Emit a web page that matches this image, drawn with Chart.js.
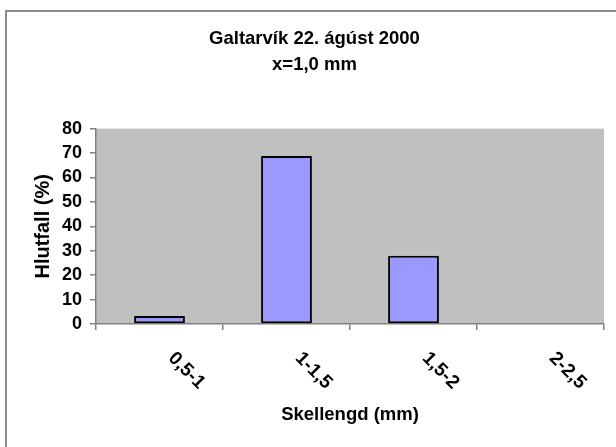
<!DOCTYPE html>
<html lang="is">

<head>
    <meta charset="UTF-8" />
    <title>Galtarvík 22. ágúst 2000</title>
    <script src="https://cdn.jsdelivr.net/npm/chart.js"></script>
    <style>
        html, body {
            margin: 0;
            padding: 0;
            background: #fff;
            overflow: hidden;
        }

        /* rammi utan um myndina (sést bara vinstri og efri brún) */
        .rammi {
            position: absolute;
            left: 5px;
            top: 10px;
            width: 700px;
            height: 500px;
            border-left: 2px solid #8c8c8c;
            border-top: 2px solid #8c8c8c;
        }

        canvas {
            position: absolute;
            left: 0;
            top: 0;
        }
    </style>
</head>

<body>
    <div class="rammi"></div>
    <canvas id="grafico" width="616" height="447"></canvas>

    <script>
        // Gögn lesin af myndinni
        const categories = ['0,5-1', '1-1,5', '1,5-2', '2-2,5'];
        const hlutfall = [3.3, 68.8, 28.0, 0];
        const titleLines = ['Galtarvík 22. ágúst 2000', 'x=1,0 mm'];
        const yMin = 0, yMax = 80, yStep = 10;

        const FONT = '"Liberation Sans", Arial, sans-serif';
        const grar = '#808080';

        // grár bakgrunnur á teiknisvæðinu
        const plotBg = {
            id: 'plotBg',
            beforeDraw(chart) {
                const { ctx, chartArea: a } = chart;
                ctx.save();
                ctx.fillStyle = '#c0c0c0';
                ctx.fillRect(a.left, a.top, a.right - a.left, a.bottom - a.top);
                ctx.restore();
            }
        };

        // x-merki snúin 45° réttsælis eins og í Excel
        const xLabels = {
            id: 'xLabels',
            afterDraw(chart) {
                const { ctx, scales: { x } } = chart;
                ctx.save();
                ctx.font = 'bold 19px ' + FONT;
                ctx.fillStyle = '#000';
                ctx.textAlign = 'left';
                ctx.textBaseline = 'alphabetic';
                categories.forEach((c, i) => {
                    const px = x.getPixelForValue(i);
                    ctx.save();
                    ctx.translate(px + 8, x.top + 35);
                    ctx.rotate(Math.PI / 4);
                    ctx.fillText(c, 0, 0);
                    ctx.restore();
                });
                ctx.restore();
            }
        };

        const ctx = document.getElementById('grafico').getContext('2d');

        new Chart(ctx, {
            type: 'bar',
            data: {
                labels: categories,
                datasets: [{
                    label: 'Hlutfall (%)',
                    data: hlutfall,
                    backgroundColor: '#9999ff',
                    borderColor: '#000',
                    borderWidth: 2,
                    borderSkipped: false,
                    categoryPercentage: 1,
                    barPercentage: 0.4
                }]
            },
            options: {
                responsive: false,
                animation: false,
                layout: {
                    padding: { left: 25, right: 12, top: 0, bottom: 0 }
                },
                plugins: {
                    legend: { display: false },
                    tooltip: { enabled: false },
                    title: {
                        display: true,
                        text: titleLines,
                        color: '#000',
                        font: { family: FONT, size: 18.5, weight: 'bold', lineHeight: 1.45 },
                        padding: { top: 25, bottom: 50 }
                    }
                },
                scales: {
                    x: {
                        ticks: { display: false },
                        grid: { drawOnChartArea: false, drawTicks: true, tickLength: 6, color: grar, lineWidth: 1.5 },
                        border: { color: grar, width: 1.5 },
                        title: {
                            display: true,
                            text: 'Skellengd (mm)',
                            color: '#000',
                            font: { family: FONT, size: 18.5, weight: 'bold' },
                            padding: { top: 0, bottom: 21 }
                        },
                        afterFit(s) { s.height = 123; }
                    },
                    y: {
                        min: yMin,
                        max: yMax,
                        ticks: {
                            stepSize: yStep,
                            autoSkip: false,
                            padding: 8,
                            color: '#000',
                            font: { family: FONT, size: 18, weight: 'bold' }
                        },
                        grid: { drawOnChartArea: false, drawTicks: true, tickLength: 6, color: grar, lineWidth: 1.5 },
                        border: { color: grar, width: 1.5 },
                        title: {
                            display: true,
                            text: 'Hlutfall (%)',
                            color: '#000',
                            font: { family: FONT, size: 20, weight: 'bold' },
                            padding: { top: 6, bottom: 0 }
                        },
                        afterFit(s) { s.width = 71; }
                    }
                }
            },
            plugins: [plotBg, xLabels]
        });
    </script>
</body>

</html>
